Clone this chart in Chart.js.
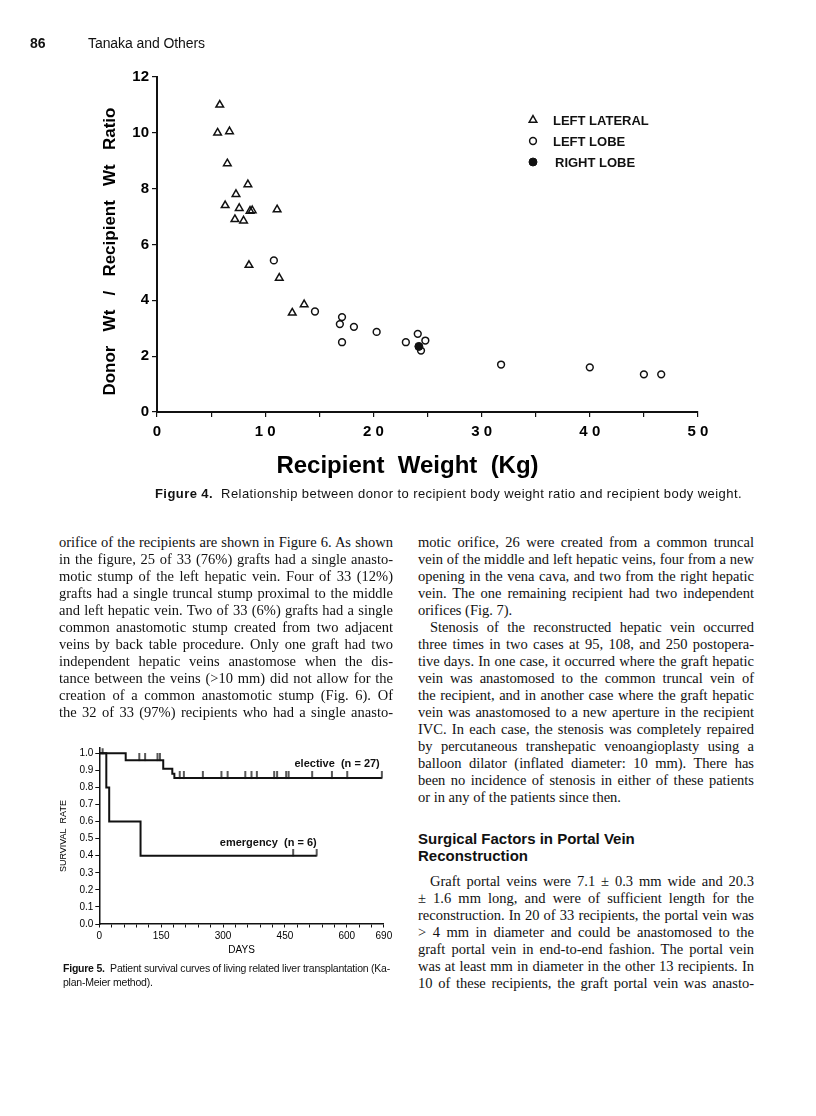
<!DOCTYPE html>
<html>
<head>
<meta charset="utf-8">
<script src="https://cdn.jsdelivr.net/npm/chart.js@4.4.1/dist/chart.umd.min.js"></script>
<style>
html, body { margin: 0; padding: 0; background: #fff; }
body { width: 816px; height: 1116px; position: relative; overflow: hidden; color: #111; }
.ln { position: absolute; white-space: nowrap; line-height: 17px; height: 17px; }
.serif { font-family: "Liberation Serif", "Times New Roman", serif; font-size: 14.5px; }
.sans { font-family: "Liberation Sans", Arial, Helvetica, sans-serif; }
canvas { position: absolute; left: 0; }
</style>
</head>
<body>
<canvas id="fig4" width="740" height="440" style="top:50px"></canvas>
<canvas id="fig5" width="400" height="250" style="top:720px"></canvas>
<div id="text"></div>
<script>
// Figure 4 - donor/recipient weight ratio vs recipient weight
const lateralWeight = [5.8, 5.6, 6.7, 6.5, 8.4, 7.3, 6.3, 7.6, 8.6, 8.8, 7.2, 8.0, 11.1, 8.5, 11.3, 12.5, 13.6];
const lateralRatio = [11.0, 10.0, 10.05, 8.9, 8.15, 7.8, 7.4, 7.3, 7.2, 7.22, 6.9, 6.85, 7.25, 5.26, 4.8, 3.55, 3.85];
const leftLobeWeight = [10.8, 14.6, 17.1, 16.9, 18.2, 17.1, 20.3, 23.0, 24.1, 24.8, 24.4, 31.8, 40.0, 45.0, 46.6];
const leftLobeRatio = [5.43, 3.6, 3.4, 3.15, 3.05, 2.5, 2.87, 2.5, 2.8, 2.56, 2.2, 1.7, 1.6, 1.35, 1.35];
const rightLobeWeight = [24.2];
const rightLobeRatio = [2.35];

// Figure 5 - Kaplan-Meier survival
const electiveDays = [0, 64, 155, 177, 182, 685];
const electiveSurvival = [1.0, 0.96, 0.91, 0.88, 0.855, 0.855];
const electiveCensored = [97, 111, 141, 147, 195, 205, 251, 296, 311, 354, 369, 382, 424, 431, 453, 459, 516, 564, 601, 685];
const emergencyDays = [0, 17, 24, 100, 527];
const emergencySurvival = [1.0, 0.8, 0.6, 0.4, 0.4];
const emergencyCensored = [8, 470, 527];
const dayLabels = [0, 150, 300, 450, 600, 690];

const sans = '"Liberation Sans", Arial, Helvetica, sans-serif';
const ink = '#111';

const pairs = (xs, ys) => xs.map((x, i) => ({ x: x, y: ys[i] }));
// survival level at a censoring time, looked up from the step table
const levelAt = (days, surv, t) => {
  let s = surv[0];
  for (let i = 0; i < days.length; i++) if (days[i] <= t) s = surv[i];
  return s;
};

const fig4Legend = {
  id: 'fig4Legend',
  afterDraw(chart) {
    const ctx = chart.ctx;
    const a = chart.chartArea;
    ctx.save();
    chart.data.datasets.forEach((ds, i) => {
      const x = a.left + 376, y = a.top + 43 + i * 21;
      ctx.fillStyle = ds.pointBackgroundColor;
      ctx.strokeStyle = ds.pointBorderColor;
      ctx.lineWidth = ds.pointBorderWidth;
      Chart.helpers.drawPoint(ctx, { pointStyle: ds.pointStyle, radius: ds.pointRadius, borderWidth: ds.pointBorderWidth, rotation: 0 }, x, y);
      ctx.fillStyle = ink;
      ctx.font = 'bold 13px ' + sans;
      ctx.textBaseline = 'middle';
      ctx.textAlign = 'left';
      ctx.fillText(ds.label, x + (i === 2 ? 22 : 20), y + 1);
    });
    ctx.restore();
  }
};

new Chart(document.getElementById('fig4'), {
  type: 'scatter',
  data: {
    datasets: [
      { label: 'LEFT LATERAL', data: pairs(lateralWeight, lateralRatio), pointStyle: 'triangle', pointRadius: 4.4,
        pointBorderWidth: 1.5, pointBorderColor: ink, pointBackgroundColor: 'rgba(255,255,255,0)' },
      { label: 'LEFT LOBE', data: pairs(leftLobeWeight, leftLobeRatio), pointStyle: 'circle', pointRadius: 3.4,
        pointBorderWidth: 1.5, pointBorderColor: ink, pointBackgroundColor: 'rgba(255,255,255,0)' },
      { label: 'RIGHT LOBE', data: pairs(rightLobeWeight, rightLobeRatio), pointStyle: 'circle', pointRadius: 4,
        pointBorderWidth: 1, pointBorderColor: ink, pointBackgroundColor: ink }
    ]
  },
  options: {
    responsive: false,
    animation: false,
    layout: { padding: { left: 99.8, right: 42, top: 27, bottom: 9.6 } },
    plugins: { legend: { display: false }, tooltip: { enabled: false } },
    scales: {
      x: {
        type: 'linear', min: 0, max: 50,
        afterFit(s) { s.height = 68.4; },
        ticks: { stepSize: 5, autoSkip: false, maxRotation: 0, padding: 6, color: '#000',
          font: { family: sans, size: 15, weight: 'bold' },
          callback: v => (v % 10 === 0 ? String(v).split('').join(' ') : '') },
        grid: { drawOnChartArea: false, tickLength: 5, color: ink, lineWidth: 1.2 },
        border: { color: ink, width: 2 },
        title: { display: true, text: 'Recipient  Weight  (Kg)      ', color: '#000', padding: 0,
          font: { family: sans, size: 24, weight: 'bold' } }
      },
      y: {
        min: 0, max: 12,
        afterFit(s) { s.width = 57.2; },
        ticks: { stepSize: 2, padding: 3, color: '#000', font: { family: sans, size: 15, weight: 'bold' } },
        grid: { drawOnChartArea: false, tickLength: 5, color: ink, lineWidth: 1.2 },
        border: { color: ink, width: 2 },
        title: { display: true, text: 'Donor   Wt   /   Recipient   Wt   Ratio   ', color: '#000', padding: 0,
          font: { family: sans, size: 17, weight: 'bold' } }
      }
    }
  },
  plugins: [fig4Legend]
});

// censoring mark: short vertical stroke rising from the curve
const tick = document.createElement('canvas');
tick.width = 4; tick.height = 14;
(() => {
  const c = tick.getContext('2d');
  c.strokeStyle = ink; c.lineWidth = 1.4;
  c.beginPath(); c.moveTo(2, 0); c.lineTo(2, 7.5); c.stroke();
})();

const curveLabels = [
  { text: 'elective  (n = 27)', day: 680, level: 0.937 },
  { text: 'emergency  (n = 6)', day: 527, level: 0.475 }
];

const fig5Labels = {
  id: 'fig5Labels',
  afterDatasetsDraw(chart) {
    const ctx = chart.ctx;
    ctx.save();
    ctx.fillStyle = ink;
    ctx.font = 'bold 11px ' + sans;
    ctx.textAlign = 'right';
    ctx.textBaseline = 'middle';
    curveLabels.forEach(l => {
      ctx.fillText(l.text, chart.scales.x.getPixelForValue(l.day), chart.scales.y.getPixelForValue(l.level));
    });
    ctx.restore();
  }
};

const stepLine = { stepped: true, borderColor: ink, borderWidth: 2, pointRadius: 0, fill: false, tension: 0 };
const censorMarks = { showLine: false, pointStyle: tick, pointRadius: 7 };

new Chart(document.getElementById('fig5'), {
  type: 'line',
  data: {
    datasets: [
      Object.assign({ label: 'elective', data: pairs(electiveDays, electiveSurvival) }, stepLine),
      Object.assign({ label: 'emergency', data: pairs(emergencyDays, emergencySurvival) }, stepLine),
      Object.assign({ label: 'elective censored',
        data: electiveCensored.map(d => ({ x: d, y: levelAt(electiveDays, electiveSurvival, d) })) }, censorMarks),
      Object.assign({ label: 'emergency censored',
        data: emergencyCensored.map(d => ({ x: d, y: levelAt(emergencyDays, emergencySurvival, d) })) }, censorMarks)
    ]
  },
  options: {
    responsive: false,
    animation: false,
    layout: { padding: { left: 58.6, right: 16.1, top: 28.2, bottom: 14 } },
    plugins: { legend: { display: false }, tooltip: { enabled: false } },
    scales: {
      x: {
        type: 'linear', min: 0, max: 690,
        afterFit(s) { s.height = 32; },
        ticks: { stepSize: 30, autoSkip: false, maxRotation: 0, padding: 3, color: '#000',
          font: { family: sans, size: 10 },
          callback: v => (dayLabels.includes(v) ? String(v) : '') },
        grid: { drawOnChartArea: false, tickLength: 3.5, color: ink, lineWidth: 1 },
        border: { color: ink, width: 1.5 },
        title: { display: true, text: 'DAYS', color: '#000', padding: 0, font: { family: sans, size: 10 } }
      },
      y: {
        min: 0, max: 1.03,
        afterFit(s) { s.width = 40.7; },
        ticks: { stepSize: 0.1, includeBounds: false, padding: 2, color: '#000',
          font: { family: sans, size: 10 }, callback: v => v.toFixed(1) },
        grid: { drawOnChartArea: false, tickLength: 4, color: ink, lineWidth: 1 },
        border: { color: ink, width: 1.5 },
        title: { display: true, text: 'SURVIVAL  RATE', color: '#000', padding: 0, font: { family: sans, size: 9 } }
      }
    }
  },
  plugins: [fig5Labels]
});

// ---- page text ----
const leftColumn = [
  'orifice of the recipients are shown in Figure 6. As shown',
  'in the figure, 25 of 33 (76%) grafts had a single anasto-',
  'motic stump of the left hepatic vein. Four of 33 (12%)',
  'grafts had a single truncal stump proximal to the middle',
  'and left hepatic vein. Two of 33 (6%) grafts had a single',
  'common anastomotic stump created from two adjacent',
  'veins by back table procedure. Only one graft had two',
  'independent hepatic veins anastomose when the dis-',
  'tance between the veins (>10 mm) did not allow for the',
  'creation of a common anastomotic stump (Fig. 6). Of',
  'the 32 of 33 (97%) recipients who had a single anasto-'
];
const rightColumn = [
  'motic orifice, 26 were created from a common truncal',
  'vein of the middle and left hepatic veins, four from a new',
  'opening in the vena cava, and two from the right hepatic',
  'vein. The one remaining recipient had two independent',
  '#orifices (Fig. 7).',
  '>Stenosis of the reconstructed hepatic vein occurred',
  'three times in two cases at 95, 108, and 250 postopera-',
  'tive days. In one case, it occurred where the graft hepatic',
  'vein was anastomosed to the common truncal vein of',
  'the recipient, and in another case where the graft hepatic',
  'vein was anastomosed to a new aperture in the recipient',
  'IVC. In each case, the stenosis was completely repaired',
  'by percutaneous transhepatic venoangioplasty using a',
  'balloon dilator (inflated diameter: 10 mm). There has',
  'been no incidence of stenosis in either of these patients',
  '#or in any of the patients since then.'
];
const portalParagraph = [
  '>Graft portal veins were 7.1 \u00b1 0.3 mm wide and 20.3',
  '\u00b1 1.6 mm long, and were of sufficient length for the',
  'reconstruction. In 20 of 33 recipients, the portal vein was',
  '> 4 mm in diameter and could be anastomosed to the',
  'graft portal vein in end-to-end fashion. The portal vein',
  'was at least mm in diameter in the other 13 recipients. In',
  '10 of these recipients, the graft portal vein was anasto-'
];

const root = document.getElementById('text');
function addLine(html, left, centerY, cls, css) {
  const d = document.createElement('div');
  d.className = 'ln ' + cls;
  d.style.left = left + 'px';
  d.style.top = (centerY - 8.5) + 'px';
  if (css) Object.assign(d.style, css);
  d.innerHTML = '<span>' + html + '</span>';
  root.appendChild(d);
  return d.firstChild;
}
function justify(span, width) {
  const w = span.getBoundingClientRect().width;
  const n = (span.textContent.match(/ /g) || []).length;
  const extra = width - w;
  if (n && extra / n > -1) span.style.wordSpacing = (extra / n) + 'px';
  else span.style.letterSpacing = (extra / span.textContent.length) + 'px';
}
function fit(span, width) {
  const w = span.getBoundingClientRect().width;
  const ls = (width - w) / span.textContent.length;
  span.style.letterSpacing = ls + 'px';
  return ls;
}
function column(lines, left, top, width) {
  lines.forEach((raw, i) => {
    let t = raw, last = false, indent = 0;
    if (t[0] === '#') { t = t.slice(1); last = true; }
    if (t[0] === '>' && t[1] !== ' ') { t = t.slice(1); indent = 12; }
    const esc = t.replace(/&/g, '&amp;').replace(/</g, '&lt;').replace(/>/g, '&gt;');
    const s = addLine(esc, left + indent, top + i * 17, 'serif');
    if (!last) justify(s, width - indent);
  });
}
column(leftColumn, 59, 542, 334);
column(rightColumn, 418, 542, 336);
column(portalParagraph, 418, 881, 336);

addLine('Surgical Factors in Portal Vein', 418, 838, 'sans', { fontSize: '15px', fontWeight: 'bold' });
addLine('Reconstruction', 418, 855, 'sans', { fontSize: '15px', fontWeight: 'bold' });

addLine('86', 30, 43, 'sans', { fontSize: '14px', fontWeight: 'bold' });
fit(addLine('Tanaka and Others', 88, 43, 'sans', { fontSize: '14px' }), 117);

fit(addLine('<b>Figure 4.</b>&nbsp; Relationship between donor to recipient body weight ratio and recipient body weight.',
  155, 493, 'sans', { fontSize: '13px' }), 587);

const ls5 = fit(addLine('<b>Figure 5.</b>&nbsp; Patient survival curves of living related liver transplantation (Ka-',
  63, 968, 'sans', { fontSize: '10.5px' }), 327);
addLine('plan-Meier method).', 63, 982, 'sans', { fontSize: '10.5px', letterSpacing: ls5 + 'px' });
</script>
</body>
</html>
